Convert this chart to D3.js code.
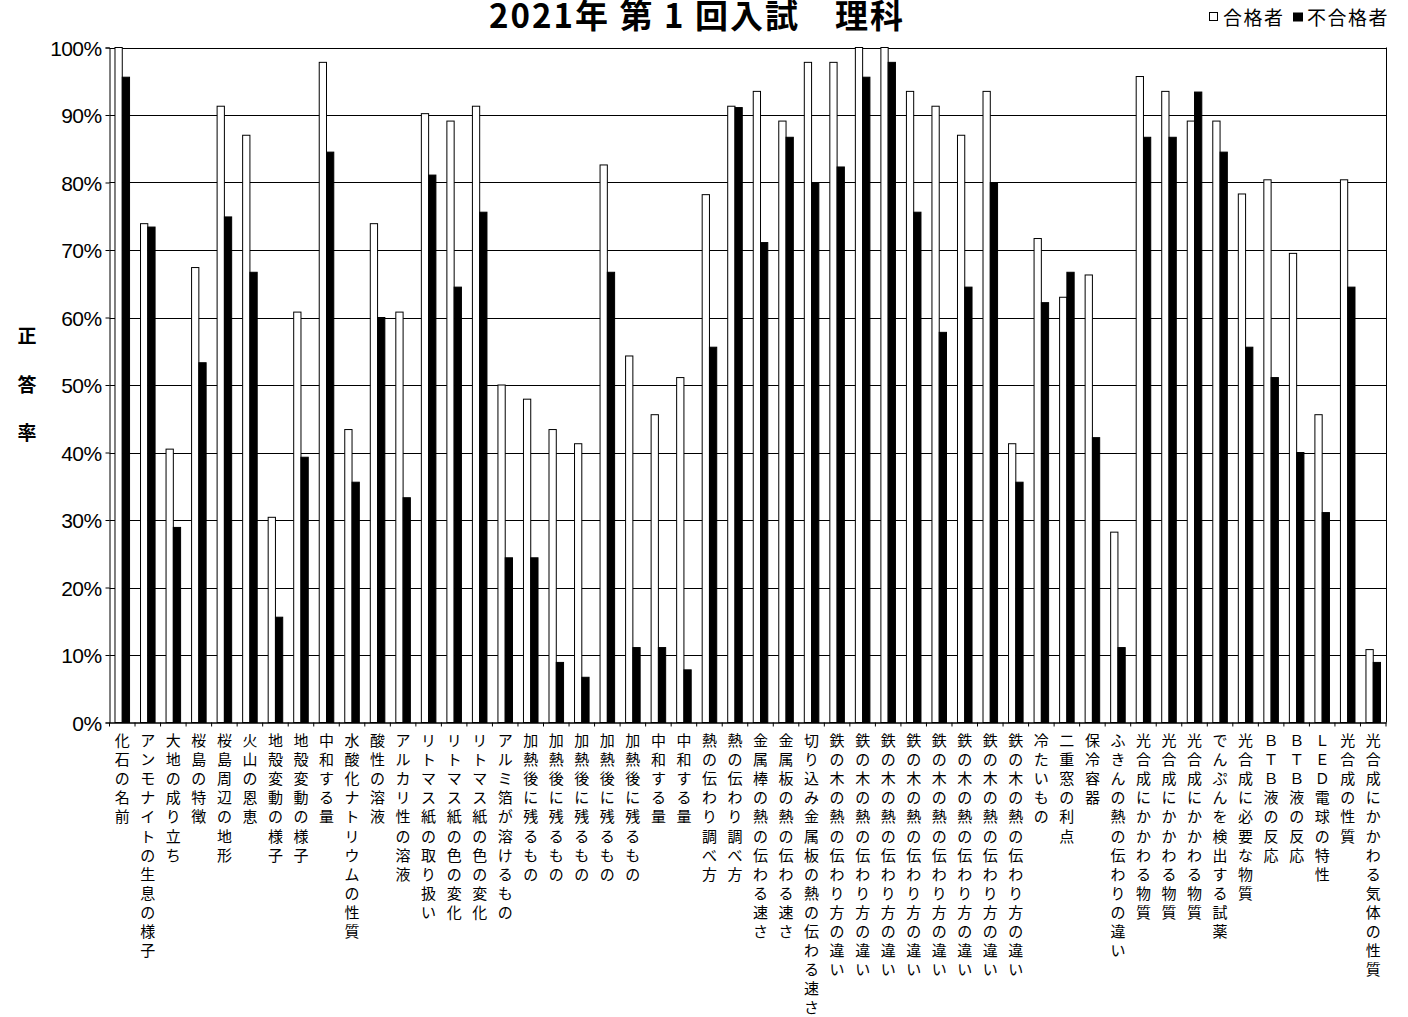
<!DOCTYPE html>
<html><head><meta charset="utf-8">
<script src="https://cdn.jsdelivr.net/npm/d3@7"></script>
<style>
html,body{margin:0;padding:0;background:#fff;}
svg{display:block;}
</style></head>
<body>
<svg id="chart" width="1408" height="1017"></svg>
<script>
const categories = ["化石の名前","アンモナイトの生息の様子","大地の成り立ち","桜島の特徴","桜島周辺の地形","火山の恩恵","地殻変動の様子","地殻変動の様子","中和する量","水酸化ナトリウムの性質","酸性の溶液","アルカリ性の溶液","リトマス紙の取り扱い","リトマス紙の色の変化","リトマス紙の色の変化","アルミ箔が溶けるもの","加熱後に残るもの","加熱後に残るもの","加熱後に残るもの","加熱後に残るもの","加熱後に残るもの","中和する量","中和する量","熱の伝わり調べ方","熱の伝わり調べ方","金属棒の熱の伝わる速さ","金属板の熱の伝わる速さ","切り込み金属板の熱の伝わる速さ","鉄の木の熱の伝わり方の違い","鉄の木の熱の伝わり方の違い","鉄の木の熱の伝わり方の違い","鉄の木の熱の伝わり方の違い","鉄の木の熱の伝わり方の違い","鉄の木の熱の伝わり方の違い","鉄の木の熱の伝わり方の違い","鉄の木の熱の伝わり方の違い","冷たいもの","二重窓の利点","保冷容器","ふきんの熱の伝わりの違い","光合成にかかわる物質","光合成にかかわる物質","光合成にかかわる物質","でんぷんを検出する試薬","光合成に必要な物質","ＢＴＢ液の反応","ＢＴＢ液の反応","ＬＥＤ電球の特性","光合成の性質","光合成にかかわる気体の性質"];
const passed = [100,73.9,40.5,67.4,91.3,87.0,30.4,60.8,97.8,43.4,73.9,60.8,90.2,89.1,91.3,50.0,47.9,43.4,41.3,82.6,54.3,45.6,51.1,78.2,91.3,93.5,89.1,97.8,97.8,100,100,93.5,91.3,87.0,93.5,41.3,71.7,63.0,66.3,28.2,95.7,93.5,89.1,89.1,78.3,80.4,69.5,45.6,80.4,10.8];
const failed = [95.6,73.4,28.9,53.3,74.9,66.7,15.6,39.3,84.5,35.6,60.0,33.3,81.1,64.5,75.6,24.4,24.4,8.9,6.7,66.7,11.1,11.1,7.8,55.6,91.1,71.1,86.7,80.0,82.3,95.6,97.8,75.6,57.8,64.5,80.0,35.6,62.2,66.7,42.2,11.1,86.7,86.7,93.4,84.5,55.6,51.1,40.0,31.1,64.5,8.9];
const seriesNames = ["合格者","不合格者"];
const yTicks = [0,10,20,30,40,50,60,70,80,90,100];
const titleText = "2021年 第 1 回入試　理科";
const yTitle = "正答率";

const CJK = "'Noto Sans CJK JP','Noto Sans CJK SC',sans-serif";
const LAT = "'Liberation Sans',Arial,sans-serif";
const svg = d3.select("#chart");
const L = 109.5, R = 1386, T = 47.5, B = 722.5;

const x0 = d3.scaleBand().domain(d3.range(categories.length)).range([L, R]).paddingInner(0.43).paddingOuter(0.215);
const x1 = d3.scaleBand().domain([0,1]).range([0, x0.bandwidth()]);
const y = d3.scaleLinear().domain([0,100]).range([B, T]);

// gridlines
svg.append("g").selectAll("line").data(yTicks.filter(d=>d>0)).join("line")
  .attr("x1", L).attr("x2", R).attr("y1", d=>Math.round(y(d))+0.5).attr("y2", d=>Math.round(y(d))+0.5)
  .attr("stroke", "#000").attr("stroke-width", 1);
// right border
svg.append("line").attr("x1", R+0.5).attr("x2", R+0.5).attr("y1", T).attr("y2", B).attr("stroke","#000");

// bars
const g = svg.append("g");
categories.forEach((c,i)=>{
  [passed[i], failed[i]].forEach((v,j)=>{
    const xx = x0(i) + x1(j);
    g.append("rect")
      .attr("x", xx).attr("y", y(v)).attr("width", x1.bandwidth()).attr("height", y(0)-y(v))
      .attr("fill", j===0 ? "#fff" : "#000")
      .attr("stroke", "#000").attr("stroke-width", 1);
  });
});

// y axis
const yAxis = svg.append("g").attr("transform", `translate(${L},0)`)
  .call(d3.axisLeft(y).tickValues(yTicks).tickSize(4).tickFormat(d=>d+"%"));
yAxis.select(".domain").attr("stroke","#000");
yAxis.selectAll("line").attr("stroke","#000");
yAxis.selectAll("text").attr("font-family", LAT).attr("font-size", 21).attr("fill","#000")
  .attr("x", -8).attr("dy", "0.36em").attr("letter-spacing", "-0.6");

// x axis
const xAxis = svg.append("g").attr("transform", `translate(0,${B})`)
  .call(d3.axisBottom(x0).tickSize(0).tickFormat(""));
xAxis.select(".domain").attr("stroke","#000").attr("stroke-width",1.5);
// boundary ticks
svg.append("g").selectAll("line").data(d3.range(categories.length+1)).join("line")
  .attr("x1", i=>L + i*x0.step()).attr("x2", i=>L + i*x0.step())
  .attr("y1", B).attr("y2", B+4).attr("stroke","#000");

// x labels vertical
const lab = svg.append("g");
categories.forEach((c,i)=>{
  const cx = x0(i) + x0.bandwidth()/2;
  const t = lab.append("text").attr("font-family", CJK).attr("font-size", 15).attr("fill","#000")
    .attr("text-anchor","middle");
  Array.from(c).forEach((ch,k)=>{
    t.append("tspan").attr("x", cx).attr("y", 746 + k*19.1).text(ch);
  });
});

// title
svg.append("text").attr("x", 697).attr("y", 28).attr("text-anchor","middle")
  .attr("font-family", CJK).attr("font-size", 33).attr("font-weight","bold").attr("fill","#000")
  .attr("letter-spacing", "2")
  .text(titleText);

// y title
const yt = svg.append("text").attr("font-family", CJK).attr("font-size", 19).attr("fill","#000")
  .attr("text-anchor","middle").attr("font-weight","bold");
Array.from(yTitle).forEach((ch,k)=>{
  yt.append("tspan").attr("x", 27).attr("y", 343 + k*48.5).text(ch);
});

// legend
const leg = svg.append("g");
leg.append("rect").attr("x", 1209.5).attr("y", 12.5).attr("width", 8).attr("height", 8).attr("fill","#fff").attr("stroke","#000");
leg.append("text").attr("x", 1223).attr("y", 24.5).attr("font-family", CJK).attr("font-size", 19).attr("letter-spacing", "1.5").attr("fill","#000").text(seriesNames[0]);
leg.append("rect").attr("x", 1293).attr("y", 12.5).attr("width", 10).attr("height", 9).attr("fill","#000");
leg.append("text").attr("x", 1307).attr("y", 24.5).attr("font-family", CJK).attr("font-size", 19).attr("letter-spacing", "1.5").attr("fill","#000").text(seriesNames[1]);
</script>
</body></html>
